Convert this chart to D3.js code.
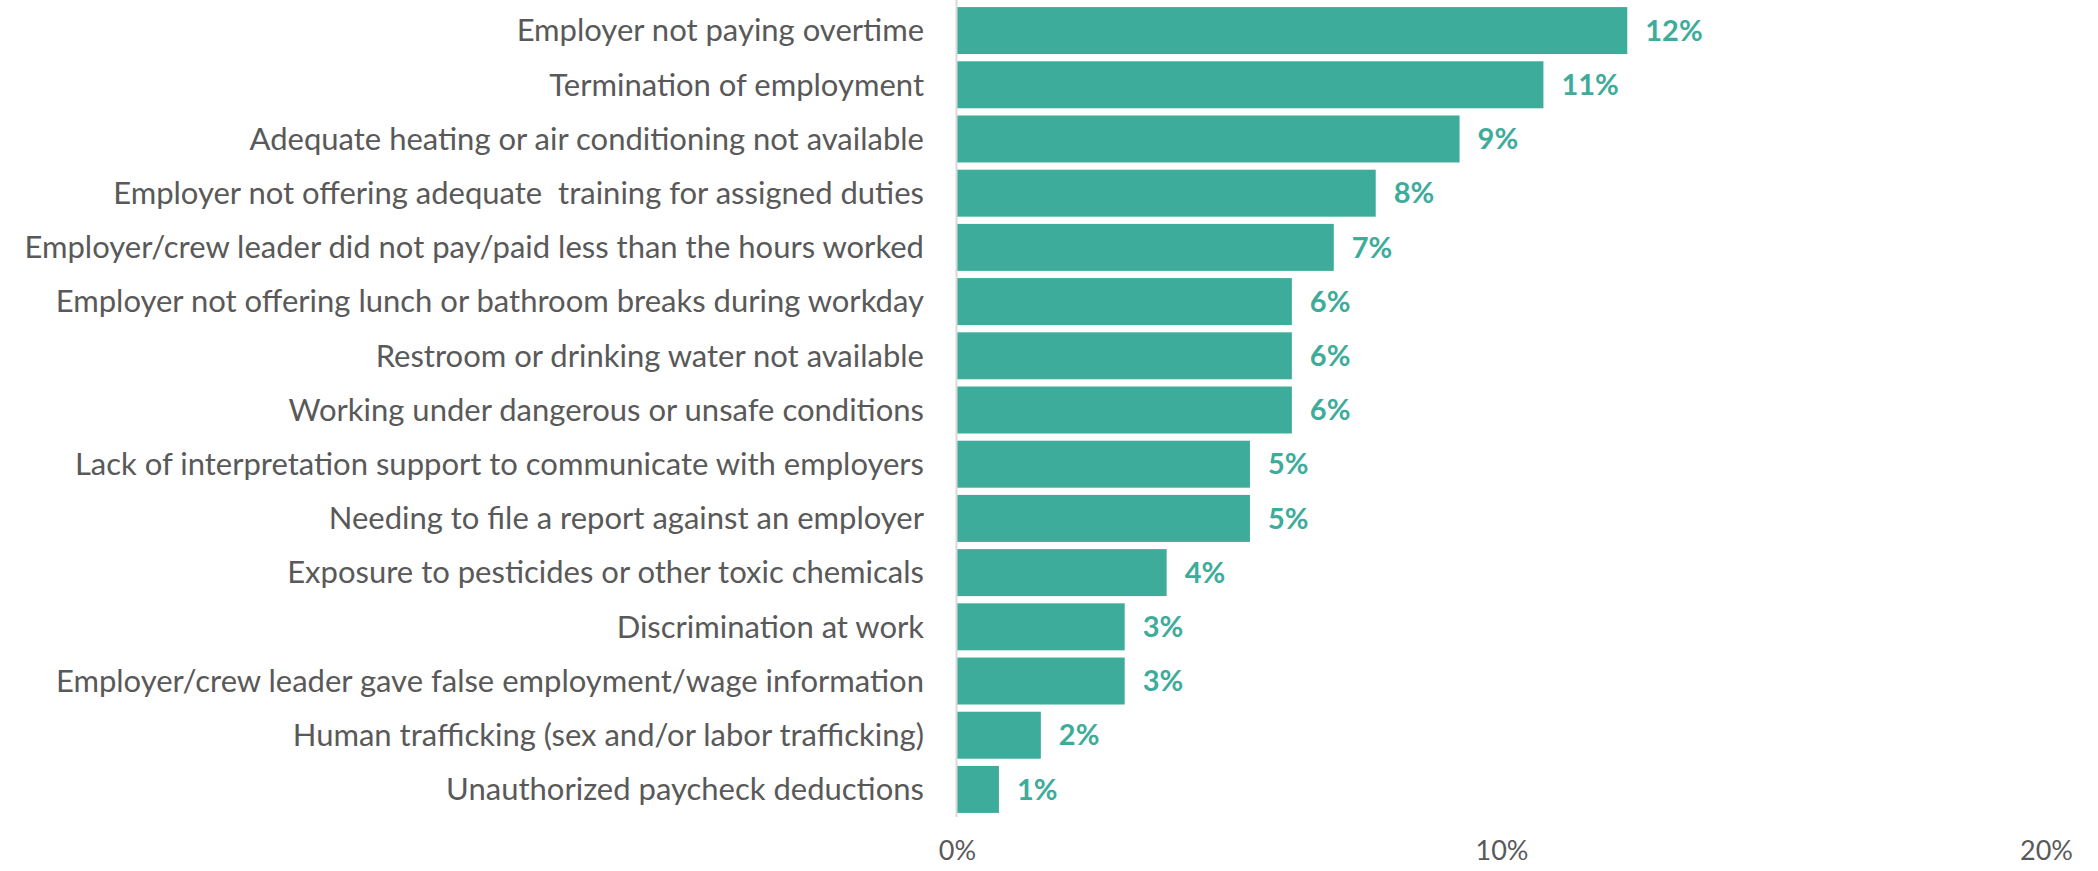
<!DOCTYPE html>
<html>

<head>
    <title>Workplace issues</title>
    <script src="https://d3js.org/d3.v7.min.js"></script>
    <style>
        body { margin: 0; background: #fff; }
        svg text { font-family: Lato, "Open Sans", sans-serif; }
    </style>
</head>

<body>
    <div id="chart"></div>
    <script>
        // DATA

        var categories = [
            "Employer not paying overtime",
            "Termination of employment",
            "Adequate heating or air conditioning not available",
            "Employer not offering adequate  training for assigned duties",
            "Employer/crew leader did not pay/paid less than the hours worked",
            "Employer not offering lunch or bathroom breaks during workday",
            "Restroom or drinking water not available",
            "Working under dangerous or unsafe conditions",
            "Lack of interpretation support to communicate with employers",
            "Needing to file a report against an employer",
            "Exposure to pesticides or other toxic chemicals",
            "Discrimination at work",
            "Employer/crew leader gave false employment/wage information",
            "Human trafficking (sex and/or labor trafficking)",
            "Unauthorized paycheck deductions"
        ]
        // share of respondents (%)
        var values = [12.31, 10.77, 9.23, 7.69, 6.92, 6.15, 6.15, 6.15, 5.38, 5.38, 3.85, 3.08, 3.08, 1.54, 0.77]
        var tickValues = [0, 10, 20]

        // SETUP

        var width = 2098
        var height = 871
        var barColor = '#3eac9a'
        var textColor = '#595959'

        var svg = d3.select('#chart').append('svg')
            .attr('width', width)
            .attr('height', height)

        var x = d3.scaleLinear()
            .domain([0, 20])
            .range([957, 2046])

        var y = d3.scaleBand()
            .domain(categories)
            .range([3.5, 816.5])
            .paddingInner(0.133)
            .paddingOuter(0.066)

        // BARS

        svg.selectAll('rect.bar')
            .data(values)
            .enter().append('rect')
            .attr('class', 'bar')
            .attr('x', x(0))
            .attr('y', (d, i) => y(categories[i]))
            .attr('width', d => x(d) - x(0))
            .attr('height', y.bandwidth())
            .style('fill', barColor)

        // value labels
        svg.selectAll('text.value')
            .data(values)
            .enter().append('text')
            .attr('class', 'value')
            .attr('x', d => x(d) + 18)
            .attr('y', (d, i) => y(categories[i]) + y.bandwidth() / 2)
            .attr('dy', '0.35em')
            .style('font-size', '29px')
            .style('font-weight', 'bold')
            .style('fill', barColor)
            .text(d => Math.round(d) + '%')

        // category labels
        svg.selectAll('text.cat')
            .data(categories)
            .enter().append('text')
            .attr('class', 'cat')
            .attr('x', 924)
            .attr('y', d => y(d) + y.bandwidth() / 2)
            .attr('dy', '0.35em')
            .attr('text-anchor', 'end')
            .style('white-space', 'pre')
            .style('font-size', '31px')
            .style('fill', textColor)
            .text(d => d)

        // vertical axis line
        svg.append('line')
            .attr('x1', x(0) - 0.5).attr('x2', x(0) - 0.5)
            .attr('y1', 0).attr('y2', 817)
            .style('stroke', '#d9d9d9')
            .style('stroke-width', 2)

        // X AXIS

        var xAxis = svg.append('g')
            .attr('transform', 'translate(0,838)')
            .call(d3.axisBottom(x).tickValues(tickValues).tickSize(0).tickFormat(d => d + '%'))
        xAxis.select('.domain').remove()
        xAxis.selectAll('text')
            .style('font-size', '27px')
            .style('font-family', 'Lato, sans-serif')
            .style('fill', textColor)
    </script>
</body>

</html>
